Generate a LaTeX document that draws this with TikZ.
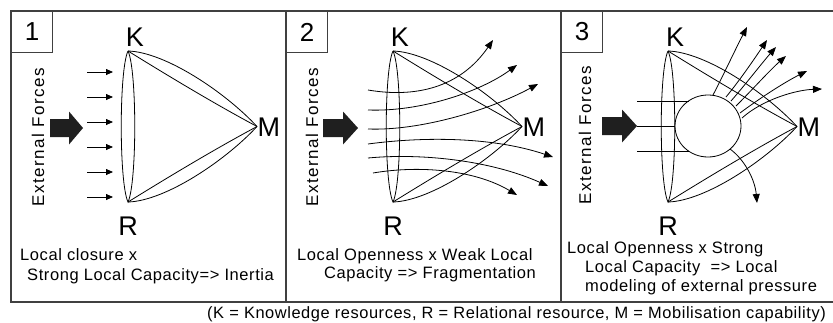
\documentclass[tikz,border=0pt]{standalone}
\usepackage{fontspec}
\setmainfont{Liberation Sans}
\newfontfamily\bodyfont[LetterSpace=3.5]{Liberation Sans}
\newfontfamily\extfont[LetterSpace=9]{Liberation Sans}
\usetikzlibrary{arrows.meta}
\tikzset{
  frameline/.style={draw=black!75, line width=1.3pt},
  numbox/.style={draw=black!75, line width=1pt, minimum width=41pt, minimum height=41pt,
    anchor=north west, inner sep=0pt, font=\fontsize{26}{26}\selectfont},
  vlabel/.style={font=\fontsize{27}{27}\selectfont, inner sep=0pt},
  body/.style={font=\bodyfont\fontsize{16.5}{20}\selectfont, anchor=west, inner sep=0pt},
  captext/.style={font=\bodyfont\fontsize{16.4}{20}\selectfont, anchor=west, inner sep=0pt},
  exttext/.style={font=\extfont\fontsize{17}{17}\selectfont, rotate=90, inner sep=0pt},
  edgeline/.style={line width=0.8pt},
  flow/.style={line width=0.8pt, -{Triangle[length=9pt,width=7pt]}},
  smallarrow/.style={line width=0.8pt, -{Triangle[length=7pt,width=6pt]}},
  bigarrow/.style={fill=black!88},
}
\begin{document}
\begin{tikzpicture}[x=1pt,y=-1pt]
\useasboundingbox (0,0) rectangle (833,322);
% frame
\coordinate (F1) at (11,11);
\coordinate (F2) at (833,11);
\coordinate (F3) at (11,302);
\coordinate (F4) at (833,302);
\coordinate (D1t) at (286,11);
\coordinate (D1b) at (286,302);
\coordinate (D2t) at (561,11);
\coordinate (D2b) at (561,302);
\draw[frameline] (F2) -- (F1) -- (F3) -- (F4);
\draw[frameline] (D1t) -- (D1b);
\draw[frameline] (D2t) -- (D2b);
\node[numbox] (n1) at (11,11) {1};
\node[numbox] (n2) at (286,11) {2};
\node[numbox] (n3) at (561,11) {3};

% triangles K-R-M
\foreach \i/\dx in {1/0,2/265,3/540}{
  \begin{scope}[xshift=\dx]
    \coordinate (K\i) at (128,51);
    \coordinate (R\i) at (128,202);
    \coordinate (M\i) at (257,126.5);
    \node[vlabel] (Kl\i) at (135,37) {K};
    \node[vlabel, anchor=west] (Ml\i) at (257.5,127.5) {M};
    \node[vlabel] (Rl\i) at (128,226) {R};
    \draw[edgeline] (K\i) .. controls (119,70) and (119,183) .. (R\i)
                         .. controls (137,183) and (137,70) .. (K\i);
    \draw[edgeline] (K\i) .. controls (165,52) and (225,92) .. (M\i);
    \draw[edgeline] (K\i) .. controls (170,77) and (215,104) .. (M\i);
    \draw[edgeline] (R\i) .. controls (165,201) and (225,161) .. (M\i);
    \draw[edgeline] (R\i) .. controls (170,176) and (215,149) .. (M\i);
  \end{scope}
}

% External forces labels and big arrows
\node[exttext] (e1) at (38,137) {External Forces};
\node[exttext] (e2) at (312,137) {External Forces};
\node[exttext] (e3) at (585,135) {External Forces};
\fill[bigarrow] (50,119) -- (69,119) -- (69,111.5) -- (83,128) -- (69,144.5) -- (69,137) -- (50,137) -- cycle;
\fill[bigarrow] (323,119) -- (343,119) -- (343,111.5) -- (358,128) -- (343,144.5) -- (343,137) -- (323,137) -- cycle;
\fill[bigarrow] (602,117) -- (622,117) -- (622,109.5) -- (637,126) -- (622,142.5) -- (622,135) -- (602,135) -- cycle;

% panel 1 small arrows
\foreach \y [count=\j] in {72,97,122,147,172,197}{
  \coordinate (sa\j) at (87,\y);
  \coordinate (sb\j) at (113,\y);
  \draw[smallarrow] (sa\j) -- (sb\j);
}

% panel 2 flows
\coordinate (f1a) at (368,90);  \coordinate (f1b) at (493,40);
\coordinate (f2a) at (368,110); \coordinate (f2b) at (517,65);
\coordinate (f3a) at (368,129); \coordinate (f3b) at (538,84);
\coordinate (f4a) at (368,144); \coordinate (f4b) at (553,157);
\coordinate (f5a) at (368,158); \coordinate (f5b) at (548,186);
\coordinate (f6a) at (373,173); \coordinate (f6b) at (517,195);
\draw[flow] (f1a) .. controls (415,98) and (460,88) .. (f1b);
\draw[flow] (f2a) .. controls (420,112) and (480,92) .. (f2b);
\draw[flow] (f3a) .. controls (420,131) and (490,110) .. (f3b);
\draw[flow] (f4a) .. controls (420,137) and (490,136) .. (f4b);
\draw[flow] (f5a) .. controls (420,153) and (490,160) .. (f5b);
\draw[flow] (f6a) .. controls (420,165) and (475,170) .. (f6b);

% panel 3 circle and lines
\draw[edgeline] (708,126) ellipse [x radius=33, y radius=31];
\coordinate (h1a) at (637,101); \coordinate (h1b) at (688.5,101);
\coordinate (h2a) at (637,126); \coordinate (h2b) at (675,126);
\coordinate (h3a) at (637,151); \coordinate (h3b) at (688.5,151);
\draw[edgeline] (h1a) -- (h1b);
\draw[edgeline] (h2a) -- (h2b);
\draw[edgeline] (h3a) -- (h3b);
\coordinate (r1a) at (713,95);  \coordinate (r1b) at (747,27);
\coordinate (r2a) at (726,97);  \coordinate (r2b) at (767,40);
\coordinate (r3a) at (731,101); \coordinate (r3b) at (776,47);
\coordinate (r4a) at (736,106); \coordinate (r4b) at (786,56);
\coordinate (r5a) at (740,113); \coordinate (r5b) at (807,71);
\coordinate (r6a) at (742,118); \coordinate (r6b) at (822,89);
\coordinate (r7a) at (730,149); \coordinate (r7b) at (757,203);
\draw[flow] (r1a) .. controls (722,78) and (735,50) .. (r1b);
\draw[flow] (r2a) .. controls (740,80) and (755,58) .. (r2b);
\draw[flow] (r3a) .. controls (745,85) and (762,63) .. (r3b);
\draw[flow] (r4a) .. controls (752,90) and (770,70) .. (r4b);
\draw[flow] (r5a) .. controls (760,98) and (785,82) .. (r5b);
\draw[flow] (r6a) .. controls (762,100) and (795,90) .. (r6b);
\draw[flow] (r7a) .. controls (745,160) and (755,180) .. (r7b);

% texts
\node[body] (t11) at (20,255) {Local closure x};
\node[body] (t12) at (27,276) {Strong Local Capacity=> Inertia};
\node[body] (t21) at (297,256) {Local Openness x Weak Local};
\node[body] (t22) at (324,274) {Capacity => Fragmentation};
\node[body] (t31) at (567,249) {Local Openness x Strong};
\node[body] (t32) at (585,268) {Local Capacity\ \ => Local};
\node[body] (t33) at (585,287) {modeling of external pressure};
\node[captext] (cap) at (207,314) {(K = Knowledge resources, R = Relational resource, M = Mobilisation capability)};
\end{tikzpicture}
\end{document}
